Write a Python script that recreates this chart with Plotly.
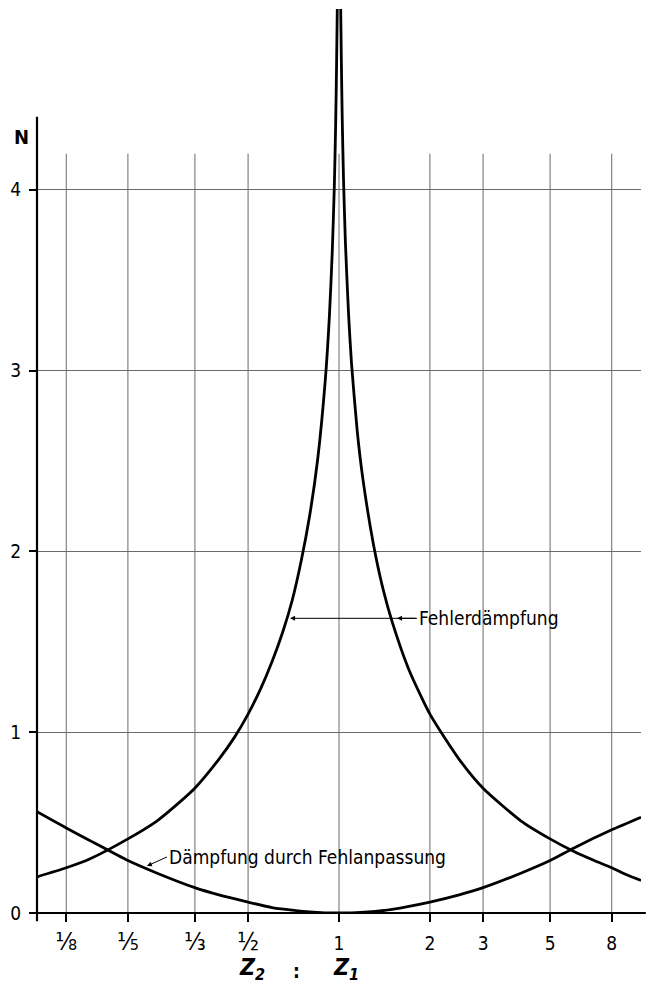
import plotly.graph_objects as go

# Fehlerdämpfung, left branch (Z2:Z1 < 1)
ratio_f_left = [0.1, 0.125, 0.15, 0.2, 0.25, 0.3, 0.333, 0.4, 0.45, 0.5, 0.55, 0.6,
                0.65, 0.7, 0.75, 0.8, 0.85, 0.9, 0.93, 0.95, 0.965, 0.975, 0.982, 0.987]
n_f_left = [0.20, 0.25, 0.30, 0.41, 0.51, 0.62, 0.69, 0.85, 0.97, 1.10, 1.24, 1.39,
            1.55, 1.73, 1.95, 2.20, 2.51, 2.94, 3.31, 3.66, 4.02, 4.37, 4.71, 5.00]

# Fehlerdämpfung, right branch (Z2:Z1 > 1)
ratio_f_right = [1.013, 1.018, 1.025, 1.035, 1.05, 1.075, 1.1, 1.15, 1.2, 1.3, 1.4, 1.5,
                 1.7, 2.0, 2.5, 3.0, 4.0, 5.0, 6.0, 7.0, 8.0, 9.0, 10.0]
n_f_right = [5.00, 4.72, 4.39, 4.06, 3.71, 3.32, 3.04, 2.66, 2.40, 2.04, 1.79, 1.61,
             1.35, 1.10, 0.85, 0.69, 0.51, 0.41, 0.34, 0.29, 0.25, 0.21, 0.18]

# Dämpfung durch Fehlanpassung
ratio_m = [0.1, 0.125, 0.15, 0.2, 0.25, 0.333, 0.4, 0.5, 0.6, 0.7, 0.8, 0.9, 1.0,
           1.1, 1.25, 1.5, 2.0, 2.5, 3.0, 4.0, 5.0, 6.0, 8.0, 10.0]
n_m = [0.56, 0.47, 0.40, 0.29, 0.22, 0.14, 0.10, 0.06, 0.03, 0.016, 0.006, 0.001, 0.0,
       0.001, 0.006, 0.02, 0.06, 0.10, 0.14, 0.22, 0.29, 0.36, 0.46, 0.53]

x_tick_vals = [1/8, 1/5, 1/3, 1/2, 1, 2, 3, 5, 8]
x_tick_text = ["⅛", "⅕", "⅓", "½", "1", "2", "3", "5", "8"]
y_tick_vals = [0, 1, 2, 3, 4]
y_tick_text = ["0", "1", "2", "3", "4"]

FONT = "DejaVu Sans Condensed, sans-serif"
LINE = dict(color="black", width=2.8)

fig = go.Figure()
for xs, ys in [(ratio_f_left, n_f_left), (ratio_f_right, n_f_right), (ratio_m, n_m)]:
    fig.add_trace(go.Scatter(x=xs, y=ys, mode="lines",
                             line=dict(LINE, shape="spline", smoothing=0.6),
                             hoverinfo="skip", showlegend=False))

shapes = []
# vertical grid lines (stop a little above N = 4)
for v in x_tick_vals:
    shapes.append(dict(type="line", xref="x", yref="y", x0=v, x1=v, y0=0, y1=4.2,
                       line=dict(color="#6a6a6a", width=1), layer="below"))
# left axis
shapes.append(dict(type="line", xref="paper", yref="paper", x0=0, x1=0, y0=-0.009, y1=0.872,
                   line=dict(color="black", width=2.2)))
# bottom axis
shapes.append(dict(type="line", xref="paper", yref="paper", x0=-0.012, x1=1.008, y0=0, y1=0,
                   line=dict(color="black", width=2.2)))

# fractions drawn larger, like the stencil fractions of the original
tick_text_styled = [
    f'<span style="font-size:25px">{t}</span>' if not t.isdigit() else t
    for t in x_tick_text
]

TXT = dict(family=FONT, size=19, color="black")
annotations = [
    dict(x=-0.025, y=(913 - 137) / 913, xref="paper", yref="paper", text="<b>N</b>",
         showarrow=False, xanchor="center", yanchor="middle",
         font=dict(family=FONT, size=20, color="black")),
    # Fehlerdämpfung label with arrow to right branch (x in log10 units)
    dict(x=0.192, y=1.63, xref="x", yref="y", text="Fehlerdämpfung", showarrow=True,
         ax=20, ay=0, xanchor="left", arrowhead=2, arrowsize=1, arrowwidth=1,
         arrowcolor="black", font=TXT),
    # arrow to left branch
    dict(x=-0.162, y=1.63, xref="x", yref="y", text="", showarrow=True,
         ax=127, ay=0, arrowhead=2, arrowsize=1, arrowwidth=1, arrowcolor="black"),
    # Dämpfung durch Fehlanpassung
    dict(x=-0.636, y=0.26, xref="x", yref="y", text="Dämpfung durch Fehlanpassung",
         showarrow=True, ax=20, ay=-9, xanchor="left", arrowhead=2, arrowsize=1,
         arrowwidth=1, arrowcolor="black", font=TXT),
    # axis title Z2 : Z1
    dict(x=0.356, y=-0.061, xref="paper", yref="paper",
         text="<b><i>Z</i></b><sub><b><i>2</i></b></sub>",
         showarrow=False, xanchor="center", yanchor="middle",
         font=dict(family=FONT, size=23, color="black")),
    dict(x=0.429, y=-0.064, xref="paper", yref="paper", text="<b>:</b>", showarrow=False,
         xanchor="center", yanchor="middle", font=dict(family=FONT, size=19, color="black")),
    dict(x=0.512, y=-0.061, xref="paper", yref="paper",
         text="<b><i>Z</i></b><sub><b><i>1</i></b></sub>",
         showarrow=False, xanchor="center", yanchor="middle",
         font=dict(family=FONT, size=23, color="black")),
]

fig.update_layout(
    width=648, height=983,
    margin=dict(l=37, r=7, t=0, b=70, autoexpand=False),
    paper_bgcolor="white", plot_bgcolor="white",
    shapes=shapes, annotations=annotations,
    xaxis=dict(type="log", range=[-1, 1], tickvals=x_tick_vals, ticktext=tick_text_styled,
               ticks="outside", ticklen=8, tickwidth=1.5, tickcolor="black",
               showgrid=False, zeroline=False, showline=False, ticklabelstandoff=5,
               automargin=False,
               tickfont=dict(family=FONT, size=19, color="black")),
    yaxis=dict(range=[0, 5.05], tickvals=y_tick_vals, ticktext=y_tick_text,
               ticks="outside", ticklen=7, tickwidth=1.5, tickcolor="black",
               showgrid=True, gridcolor="#6a6a6a", gridwidth=1, zeroline=False,
               showline=False, ticklabelstandoff=4, automargin=False,
               tickfont=dict(family=FONT, size=19, color="black")),
)

fig.write_html("out.html", config={"displayModeBar": False},
               post_script="document.body.style.margin='0';")
